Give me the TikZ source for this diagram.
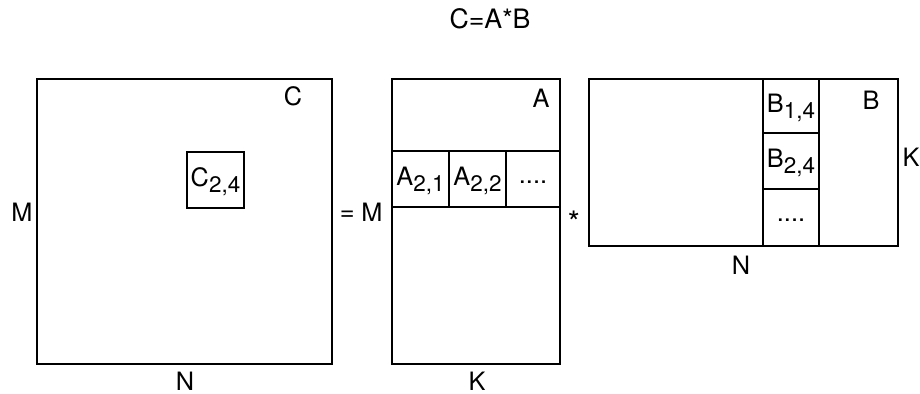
\documentclass[tikz,border=0pt]{standalone}
\usepackage{fontspec}
\setmainfont{TeX Gyre Heros}
\usetikzlibrary{positioning}

% lowered, slightly smaller index text
\newcommand{\sbs}[1]{\raisebox{-4.5pt}{\fontsize{16}{16}\selectfont #1}}

\begin{document}
\begin{tikzpicture}[line width=1pt,
		every node/.style={font=\fontsize{18}{21}\selectfont, inner sep=0pt}]
	\useasboundingbox (0,0) rectangle (23,9.85);
	\node (title) at (12.25,9.375) {\fontsize{19}{22}\selectfont C=A*B};
	% result matrix C
	\draw (0.925,0.75) rectangle (8.3,7.875);
	\draw (4.675,4.65) rectangle (6.1,6.05);
	\node (cname) at (7.325,7.45) {C};
	\node (c24) at (5.3875,5.3) {C\sbs{2,4}};
	\node (cm) at (0.55,4.55) {M};
	\node (cn) at (4.625,0.325) {N};
	\node (eq) at (8.68,4.45) {=};
	% matrix A with row 2
	\draw (9.8,0.75) rectangle (14,7.875);
	\draw (9.8,6.075) -- (14,6.075) (9.8,4.675) -- (14,4.675);
	\draw (11.225,4.675) -- (11.225,6.075) (12.65,4.675) -- (12.65,6.075);
	\node (aname) at (13.525,7.4) {A};
	\node (a21) at (10.5125,5.32) {A\sbs{2,1}};
	\node (a22) at (11.9375,5.32) {A\sbs{2,2}};
	\node (adots) at (13.325,5.3) {....};
	\node (am) at (9.3,4.55) {M};
	\node (ak) at (11.925,0.325) {K};
	\node (times) at (14.35,4.3) {\fontsize{22}{24}\selectfont *};
	% matrix B with column 4
	\draw (14.725,3.7) rectangle (22.45,7.875);
	\draw (19.075,3.7) -- (19.075,7.875) (20.475,3.7) -- (20.475,7.875);
	\draw (19.075,6.525) -- (20.475,6.525) (19.075,5.125) -- (20.475,5.125);
	\node (bname) at (21.775,7.35) {B};
	\node (b14) at (19.775,7.15) {B\sbs{1,4}};
	\node (b24) at (19.775,5.78) {B\sbs{2,4}};
	\node (bdots) at (19.775,4.35) {....};
	\node (bn) at (18.525,3.225) {N};
	\node (bk) at (22.775,5.925) {K};
\end{tikzpicture}
\end{document}
